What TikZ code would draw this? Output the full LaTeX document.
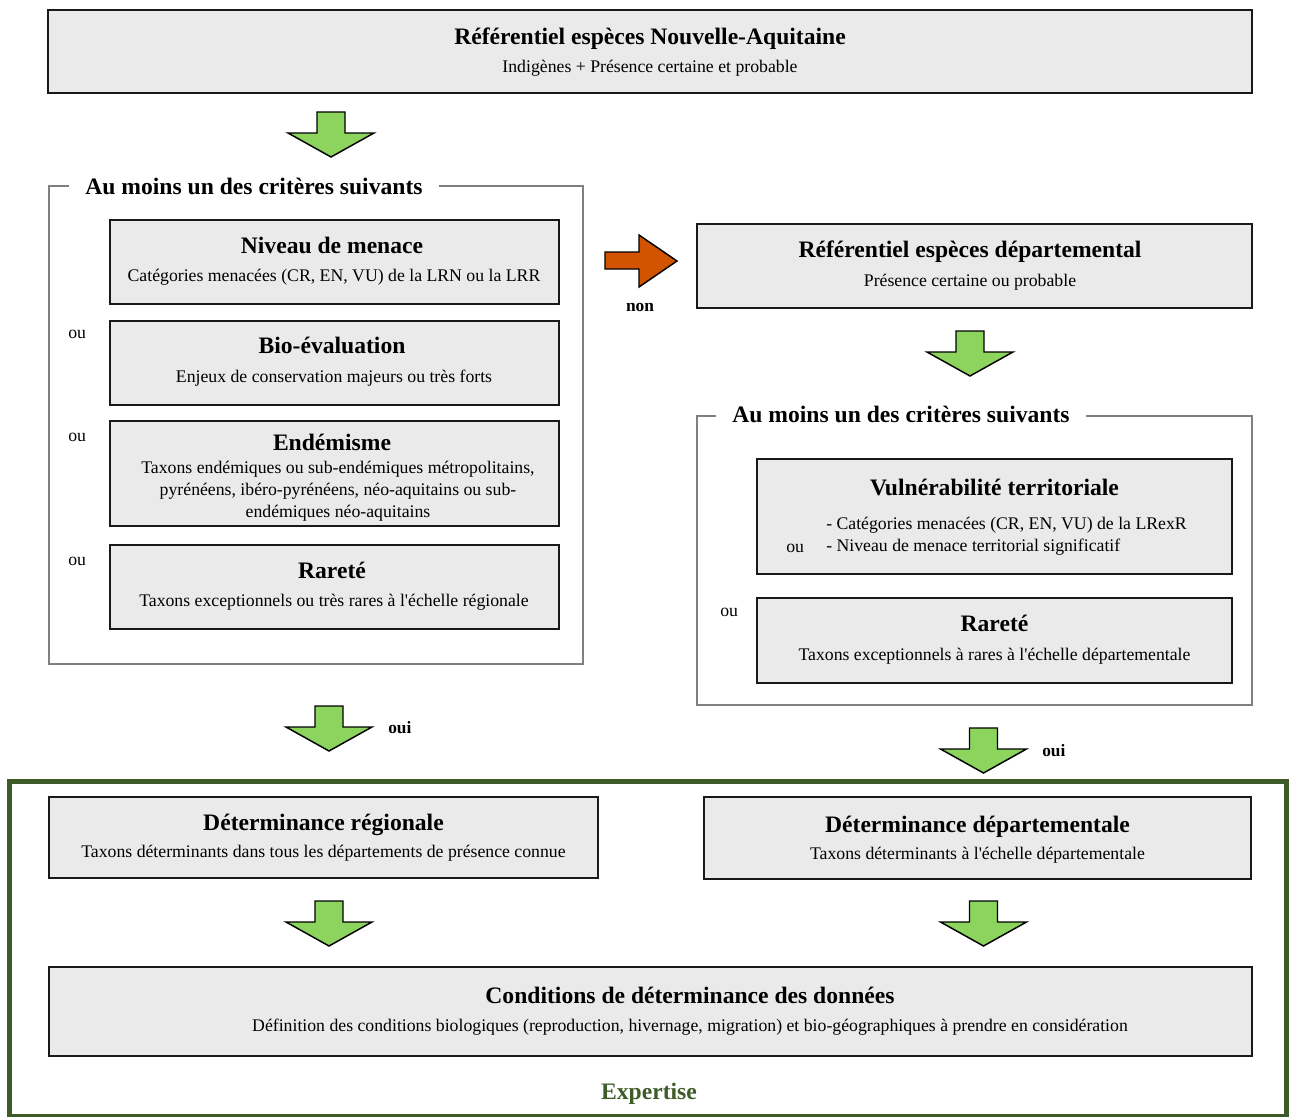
\documentclass[tikz,border=0pt]{standalone}
\usepackage{fontspec}
\setmainfont{Liberation Serif}[Ligatures=TeXOff]
\usetikzlibrary{fit}
\definecolor{boxfill}{HTML}{EAEAEA}
\definecolor{garrfill}{HTML}{8CD45E}
\definecolor{oarrfill}{HTML}{D35400}
\definecolor{frameg}{HTML}{3E5B28}
\definecolor{grpgray}{HTML}{808080}
\begin{document}
\begin{tikzpicture}[x=0.75pt,y=-0.75pt,
  box/.style={draw=black!90,fill=boxfill,line width=1.5pt,inner sep=0pt},
  grp/.style={draw=grpgray,line width=1.1pt,inner sep=0pt},
  grptitle/.style={fill=white,inner xsep=12pt,inner ysep=2pt,font=\fontsize{17.7}{21}\selectfont\bfseries},
  ttl/.style={anchor=base,inner sep=0pt,font=\fontsize{17.7}{21}\selectfont\bfseries},
  sub/.style={anchor=base,inner sep=0pt,font=\fontsize{13.3}{16.5}\selectfont},
  subw/.style={anchor=base west,inner sep=0pt,font=\fontsize{13.3}{16.5}\selectfont},
  lbl/.style={anchor=base,inner sep=0pt,font=\fontsize{13}{16}\selectfont\bfseries},
  garr/.style={draw=black,fill=garrfill,line width=1.1pt,line join=miter},
  garrow/.pic={\path[garr] (-14,0) -- (14,0) -- (14,21) -- (43,21) -- (0,45) -- (-43,21) -- (-14,21) -- cycle;}
]
\useasboundingbox (0,0) rectangle (1290,1117);

% green expertise frame
\node[draw=frameg,line width=3.75pt,inner sep=0pt,fit={(9.5,781) (1286,1116.5)}] (expframe) {};
\node[ttl,text=frameg] (exptxt) at (649,1099) {Expertise};

% top box
\node[box,fit={(48,10) (1252,93)}] (topbox) {};
\node[ttl] (topt) at (650,44) {Référentiel espèces Nouvelle-Aquitaine};
\node[sub] (tops) at (650,72) {Indigènes + Présence certaine et probable};

\pic at (331,112) {garrow};

% left group
\node[grp,fit={(49,186) (583,664)}] (lgrp) {};
\node[grptitle] (lgrpt) at (254,186) {Au moins un des critères suivants};

\node[box,fit={(110,220) (559,304)}] (niv) {};
\node[ttl] (nivt) at (332,253) {Niveau de menace};
\node[sub] (nivs) at (334,281) {Catégories menacées (CR, EN, VU) de la LRN ou la LRR};

\node[subw] (ou1) at (68,338) {ou};
\node[box,fit={(110,321) (559,405)}] (bio) {};
\node[ttl] (biot) at (332,353) {Bio-évaluation};
\node[sub] (bios) at (334,382) {Enjeux de conservation majeurs ou très forts};

\node[subw] (ou2) at (68,441) {ou};
\node[box,fit={(110,421) (559,526)}] (end) {};
\node[ttl] (endt) at (332,450) {Endémisme};
\node[sub] (ends1) at (338,473) {Taxons endémiques ou sub-endémiques métropolitains,};
\node[sub] (ends2) at (338,495) {pyrénéens, ibéro-pyrénéens, néo-aquitains ou sub-};
\node[sub] (ends3) at (338,517) {endémiques néo-aquitains};

\node[subw] (ou3) at (68,565) {ou};
\node[box,fit={(110,545) (559,629)}] (rarl) {};
\node[ttl] (rarlt) at (332,578) {Rareté};
\node[sub] (rarls) at (334,606) {Taxons exceptionnels ou très rares à l'échelle régionale};

% orange arrow
\path[draw=black,fill=oarrfill,line width=1.1pt] (605,252) -- (639,252) -- (639,235) -- (677,261) -- (639,287) -- (639,269) -- (605,269) -- cycle;
\node[lbl] (non) at (640,311) {non};

% right top box
\node[box,fit={(697,224) (1252,308)}] (refd) {};
\node[ttl] (refdt) at (970,257) {Référentiel espèces départemental};
\node[sub] (refds) at (970,286) {Présence certaine ou probable};

\pic at (970,331) {garrow};

% right group
\node[grp,fit={(697,416) (1252,705)}] (rgrp) {};
\node[grptitle] (rgrpt) at (901,414) {Au moins un des critères suivants};

\node[box,fit={(757,459) (1232,574)}] (vul) {};
\node[ttl] (vult) at (994.5,495) {Vulnérabilité territoriale};
\node[subw] (vuls1) at (826,529) {- Catégories menacées (CR, EN, VU) de la LRexR};
\node[subw] (vuls2) at (826,551) {- Niveau de menace territorial significatif};
\node[subw] (ouv) at (786,552) {ou};

\node[subw] (ou4) at (720,616) {ou};
\node[box,fit={(757,598) (1232,683)}] (rarr) {};
\node[ttl] (rarrt) at (994.5,631) {Rareté};
\node[sub] (rarrs) at (994.5,660) {Taxons exceptionnels à rares à l'échelle départementale};

% oui arrows
\pic at (329,706) {garrow};
\node[lbl,anchor=base west] (oui1) at (388,733) {oui};
\pic at (983.5,728) {garrow};
\node[lbl,anchor=base west] (oui2) at (1042,756) {oui};

% determinance boxes
\node[box,fit={(49,797) (598,878)}] (detr) {};
\node[ttl] (detrt) at (323.5,830) {Déterminance régionale};
\node[sub] (detrs) at (323.5,857) {Taxons déterminants dans tous les départements de présence connue};

\node[box,fit={(704,797) (1251,879)}] (detd) {};
\node[ttl] (detdt) at (977.5,832) {Déterminance départementale};
\node[sub] (detds) at (977.5,859) {Taxons déterminants à l'échelle départementale};

\pic at (329,901) {garrow};
\pic at (983.5,901) {garrow};

% conditions
\node[box,fit={(49,967) (1252,1056)}] (cond) {};
\node[ttl] (condt) at (690,1003) {Conditions de déterminance des données};
\node[sub] (conds) at (690,1031) {Définition des conditions biologiques (reproduction, hivernage, migration) et bio-géographiques à prendre en considération};
\end{tikzpicture}
\end{document}
